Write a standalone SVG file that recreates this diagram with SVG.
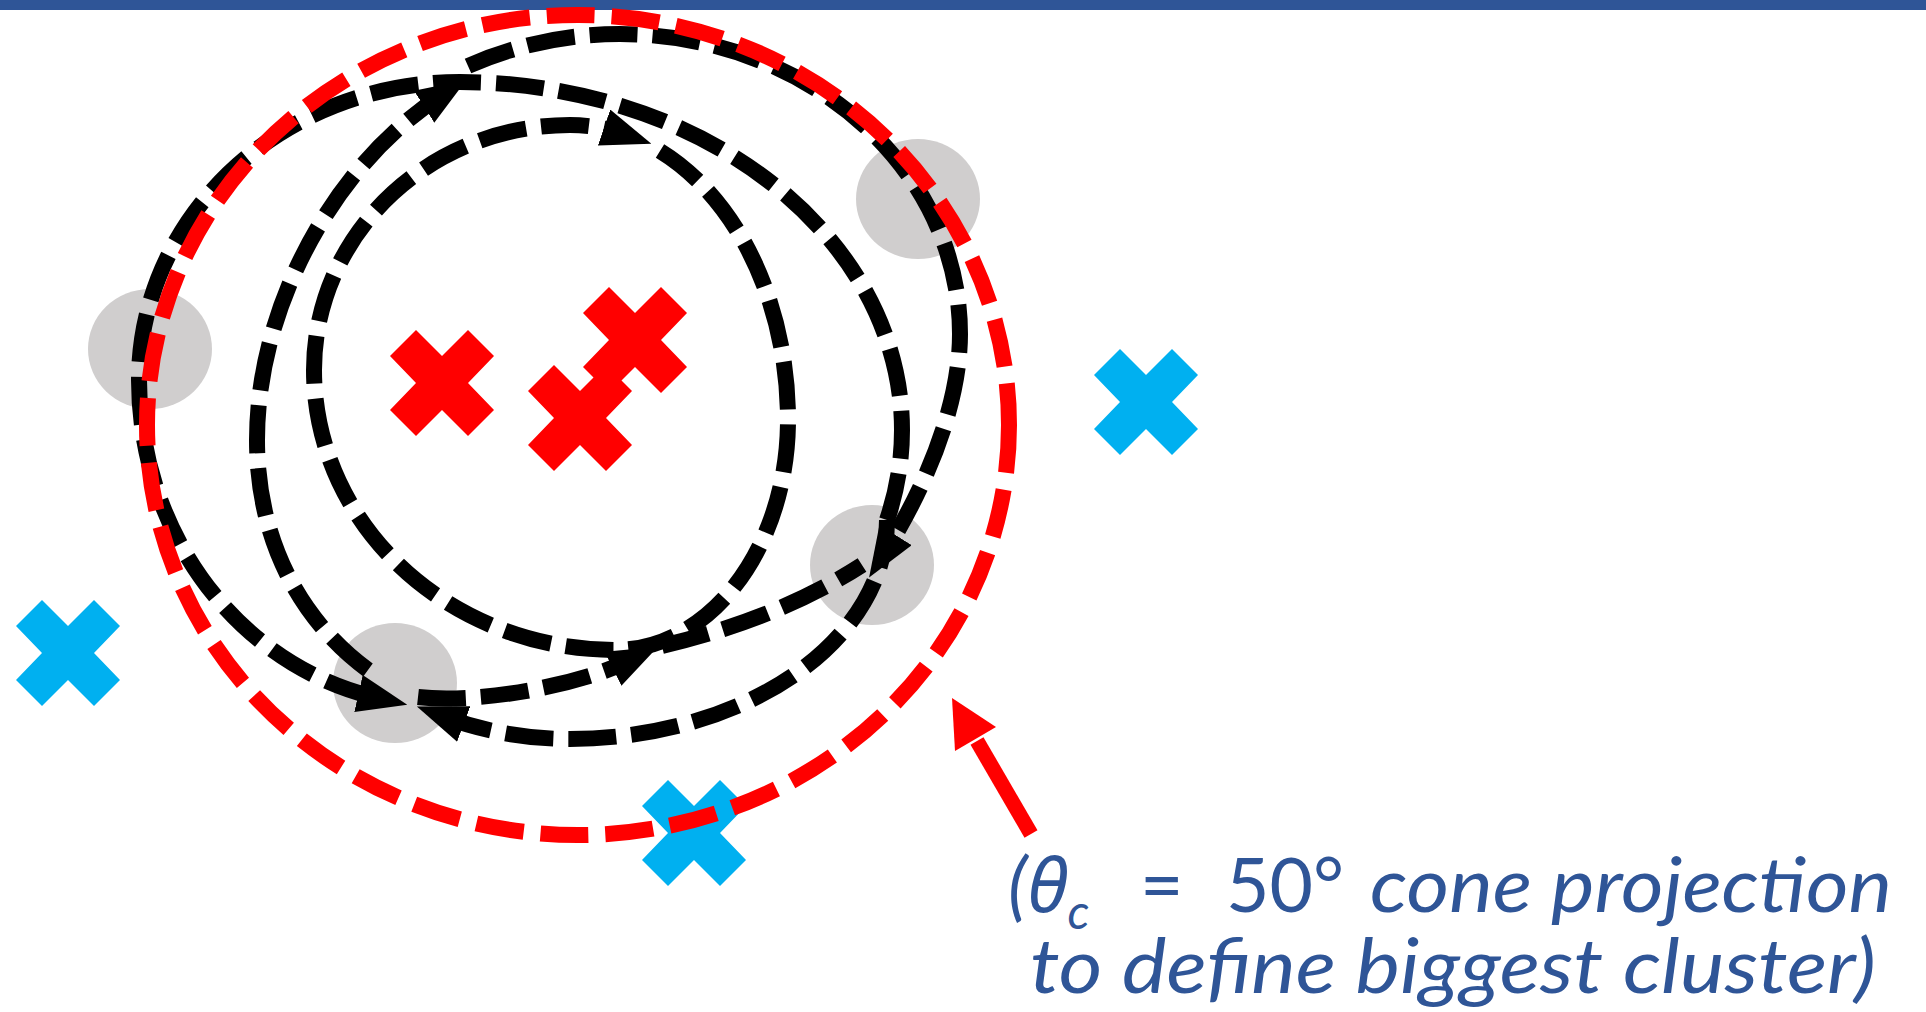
<svg xmlns="http://www.w3.org/2000/svg" xmlns:xlink="http://www.w3.org/1999/xlink" width="1926" height="1012" viewBox="0 0 1926 1012">
<style>
.pt{fill:#D0CECE}
.rx{fill:#FF0000}
.bx{fill:#00B0F0}
.blk{fill:none;stroke:#000;stroke-width:16;stroke-dasharray:48 15}
.cone{fill:none;stroke:#FF0000;stroke-width:16;stroke-dasharray:48 17}
.lbl{font-family:Lato,"Noto Sans","DejaVu Sans",sans-serif;font-style:italic;font-size:75px;fill:#2F5597}
.gk{font-family:"Noto Sans","DejaVu Sans",sans-serif;font-style:italic}
</style>
<defs>
<path id="xs" d="M-52,-27 L-26,-53 L0,-27 L26,-53 L52,-27 L26,0 L52,27 L26,53 L0,27 L-26,53 L-52,27 L-26,0 Z"/>
<marker id="ah" markerUnits="userSpaceOnUse" viewBox="0 0 50 38" refX="20" refY="19" markerWidth="50" markerHeight="38" orient="auto"><path d="M0,0 L50,19 L0,38 Z" fill="#000"/></marker>
</defs>
<rect id="topbar" x="0" y="0" width="1926" height="10" fill="#2F5597"/>
<g id="point-1"><ellipse class="pt" cx="918" cy="199" rx="62" ry="60"/></g>
<g id="point-2"><ellipse class="pt" cx="150" cy="349" rx="62" ry="60"/></g>
<g id="point-3"><ellipse class="pt" cx="872" cy="565" rx="62" ry="60"/></g>
<g id="point-4"><ellipse class="pt" cx="395" cy="683" rx="62" ry="60"/></g>
<g id="red-x-1"><use xlink:href="#xs" href="#xs" class="rx" x="442" y="383"/></g>
<g id="red-x-2"><use xlink:href="#xs" href="#xs" class="rx" x="635" y="340"/></g>
<g id="red-x-3"><use xlink:href="#xs" href="#xs" class="rx" x="580" y="418"/></g>
<g id="blue-x-1"><use xlink:href="#xs" href="#xs" class="bx" x="68" y="653"/></g>
<g id="blue-x-2"><use xlink:href="#xs" href="#xs" class="bx" x="1146" y="402"/></g>
<g id="blue-x-3"><use xlink:href="#xs" href="#xs" class="bx" x="694" y="833"/></g>
<g id="connectors">
<path class="blk" marker-end="url(#ah)" d="M660,151 A218 295 0 0 1 788,420 A173 230 0 0 1 615,650 A301 280 0 0 1 314,370 A256 245 0 0 1 570,125 A218 295 0 0 1 623,134"/>
<path class="blk" marker-end="url(#ah)" d="M887,520 A442 348 0 0 0 902,430 A442 348 0 0 0 460,82 A321 298 0 0 0 139,380 A301 325 0 0 0 378,698"/>
<path class="blk" marker-end="url(#ah)" d="M368,670 C300,620 257,540 257,440 C257,300 340,160 441,96"/>
<path class="blk" marker-end="url(#ah)" d="M468,66 A340 300 0 0 1 620,34 A340 300 0 0 1 960,334 C960,400 930,480 885,552"/>
<path class="blk" marker-end="url(#ah)" d="M887,520 A317 219 0 0 1 570,739 A286 219 0 0 1 445,717"/>
<path class="blk" marker-end="url(#ah)" d="M418,697 C480,704 580,685 631,660"/>
<path class="blk" d="M662,646 C730,630 800,605 862,565"/>
</g>
<g id="cone-projection"><ellipse class="cone" cx="578" cy="425" rx="431" ry="410"/></g>
<g id="pointer">
<line x1="1031" y1="834" x2="977" y2="741" stroke="#FF0000" stroke-width="15"/>
<polygon points="952,698 955,751 996,727" fill="#FF0000"/>
</g>
<g id="label">
<text class="lbl" x="1008" y="912">(<tspan class="gk">θ</tspan><tspan dy="17" font-size="48">c</tspan><tspan x="1140" dy="-17" font-style="normal">=</tspan><tspan x="1226" font-style="normal">50°</tspan><tspan x="1370" textLength="522" lengthAdjust="spacingAndGlyphs">cone projection</tspan></text>
<text class="lbl" x="1030" y="993" textLength="846" lengthAdjust="spacingAndGlyphs">to define biggest cluster)</text>
</g>
</svg>
